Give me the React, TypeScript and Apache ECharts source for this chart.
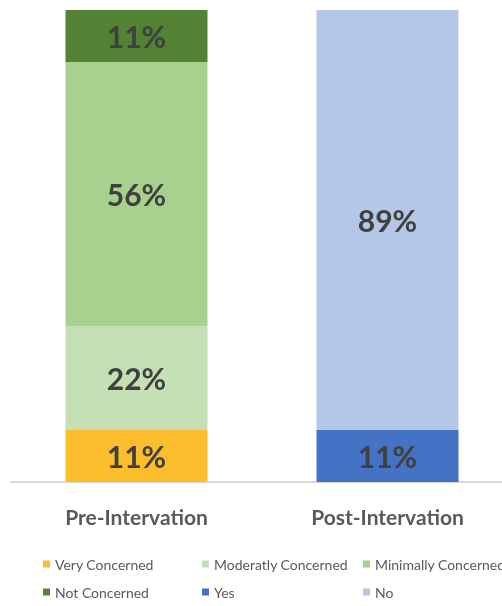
import React, { useEffect, useRef } from "react";
import * as echarts from "echarts";

const categories = ["Pre-Intervation", "Post-Intervation"];
const veryConcerned = [11, "-"];
const moderatlyConcerned = [22, "-"];
const minimallyConcerned = [56, "-"];
const notConcerned = [11, "-"];
const yes = ["-", 11];
const no = ["-", 89];

const FONT = "Lato";

export default function App() {
  const ref = useRef<HTMLDivElement>(null);
  useEffect(() => {
    const chart = echarts.init(ref.current!, null, { renderer: "svg" });
    const label = {
      show: true,
      position: "inside",
      formatter: "{c}%",
      color: "#404040",
      fontSize: 30,
      fontWeight: "bold",
      fontFamily: FONT,
    };
    const mk = (name: string, data: any[], color: string) => ({
      name,
      type: "bar",
      stack: "total",
      data,
      barWidth: 142,
      itemStyle: { color },
      label,
    });
    const legendBase = {
      orient: "vertical",
      padding: 0,
      itemWidth: 7,
      itemHeight: 7,
      itemGap: 14,
      icon: "rect",
      textStyle: { fontSize: 14, lineHeight: 14, color: "#595959", fontFamily: FONT },
    };
    chart.setOption({
      animation: false,
      grid: { left: 11, top: 10, width: 502, height: 472, containLabel: false },
      xAxis: {
        type: "category",
        data: categories,
        axisLine: { lineStyle: { color: "#D9D9D9", width: 2 } },
        axisTick: { show: false },
        axisLabel: {
          margin: 24,
          fontSize: 21,
          fontWeight: "bold",
          color: "#595959",
          fontFamily: FONT,
        },
      },
      yAxis: { type: "value", min: 0, max: 100, show: false },
      legend: [
        { ...legendBase, left: 43, top: 557, data: ["Very Concerned", "Not Concerned"] },
        { ...legendBase, left: 202, top: 557, data: ["Moderatly Concerned", "Yes"] },
        { ...legendBase, left: 363, top: 557, data: ["Minimally Concerned", "No"] },
      ],
      series: [
        mk("Very Concerned", veryConcerned, "#FBBD2C"),
        mk("Moderatly Concerned", moderatlyConcerned, "#C5E0B4"),
        mk("Minimally Concerned", minimallyConcerned, "#A9D18E"),
        mk("Not Concerned", notConcerned, "#548235"),
        mk("Yes", yes, "#4472C4"),
        mk("No", no, "#B4C7E7"),
      ],
    });
    return () => chart.dispose();
  }, []);
  return (
    <div
      ref={ref}
      style={{ position: "fixed", left: 0, top: 0, width: 530, height: 606 }}
    />
  );
}
